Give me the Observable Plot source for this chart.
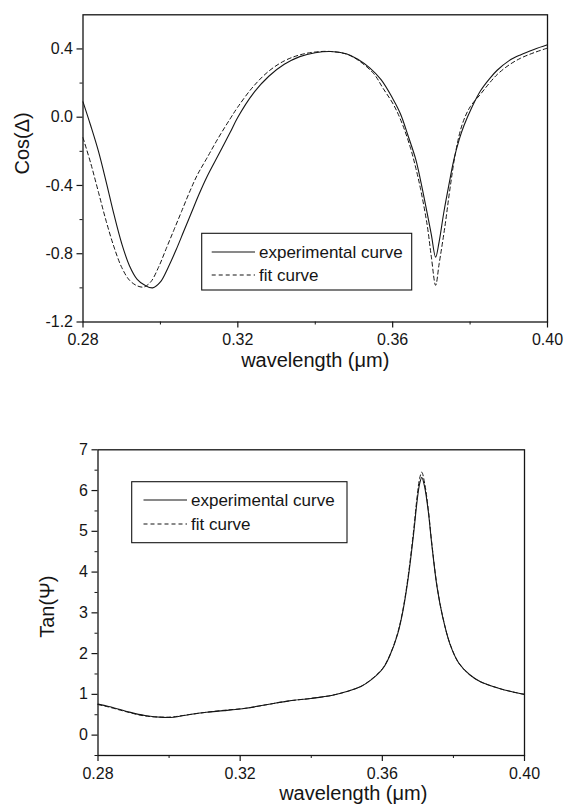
<!DOCTYPE html>
<html>
<head>
<meta charset="utf-8">
<script src="https://cdn.jsdelivr.net/npm/d3@7"></script>
<script src="https://cdn.jsdelivr.net/npm/@observablehq/plot@0.6"></script>
<style>
  html, body { margin: 0; padding: 0; background: #fff; overflow: hidden; }
  #wrap { position: relative; width: 565px; height: 809px; background: #fff; }
  #wrap svg { position: absolute; left: 0; }
</style>
</head>
<body>
<div id="wrap"></div>
<script>
// ---------- data ----------
const xTicks = [0.28, 0.32, 0.36, 0.40];
const xMinor = [0.30, 0.34, 0.38];
const cosTicks = [-1.2, -0.8, -0.4, 0.0, 0.4];
const cosMinor = [-1.0, -0.6, -0.2, 0.2];
const tanTicks = [0, 1, 2, 3, 4, 5, 6, 7];
const tanMinor = [-0.5, 0.5, 1.5, 2.5, 3.5, 4.5, 5.5, 6.5];
const seriesNames = ["experimental curve", "fit curve"];

// Cos(Δ) experimental
const wlCosExp = [0.2800, 0.2820, 0.2840, 0.2860, 0.2880, 0.2900, 0.2920, 0.2940, 0.2960, 0.2980, 0.3000, 0.3020, 0.3040, 0.3060, 0.3080, 0.3100, 0.3120, 0.3150, 0.3180, 0.3200, 0.3240, 0.3280, 0.3320, 0.3360, 0.3400, 0.3440, 0.3480, 0.3510, 0.3540, 0.3570, 0.3600, 0.3620, 0.3640, 0.3660, 0.3672, 0.3689, 0.3700, 0.3711, 0.3720, 0.3732, 0.3745, 0.3758, 0.3772, 0.3784, 0.3805, 0.3827, 0.3850, 0.3870, 0.3900, 0.3930, 0.3965, 0.4000];
const cosExp   = [0.09, -0.05, -0.20, -0.38, -0.57, -0.74, -0.87, -0.95, -0.985, -1.0, -0.965, -0.88, -0.78, -0.67, -0.56, -0.45, -0.35, -0.22, -0.09, 0.0, 0.14, 0.24, 0.31, 0.355, 0.378, 0.385, 0.372, 0.34, 0.29, 0.22, 0.11, 0.02, -0.11, -0.25, -0.37, -0.56, -0.69, -0.82, -0.73, -0.56, -0.40, -0.25, -0.13, -0.05, 0.06, 0.155, 0.225, 0.275, 0.33, 0.365, 0.397, 0.424];

// Cos(Δ) fit
const wlCosFit = [0.2800, 0.2820, 0.2840, 0.2860, 0.2880, 0.2900, 0.2920, 0.2940, 0.2957, 0.2975, 0.2995, 0.3015, 0.3035, 0.3055, 0.3075, 0.3095, 0.3120, 0.3150, 0.3180, 0.3200, 0.3240, 0.3280, 0.3320, 0.3360, 0.3400, 0.3440, 0.3480, 0.3510, 0.3551, 0.3575, 0.3603, 0.3625, 0.3646, 0.3660, 0.3672, 0.3689, 0.3700, 0.3711, 0.3720, 0.3735, 0.3748, 0.3763, 0.3780, 0.3800, 0.3827, 0.3850, 0.3870, 0.3900, 0.3930, 0.3965, 0.4000];
const cosFit   = [-0.12, -0.27, -0.44, -0.61, -0.76, -0.88, -0.955, -0.988, -0.995, -0.965, -0.88, -0.77, -0.66, -0.55, -0.44, -0.34, -0.24, -0.12, -0.01, 0.06, 0.18, 0.27, 0.33, 0.365, 0.382, 0.385, 0.37, 0.335, 0.255, 0.17, 0.07, -0.04, -0.18, -0.30, -0.42, -0.63, -0.82, -0.985, -0.86, -0.64, -0.42, -0.20, -0.04, 0.06, 0.135, 0.20, 0.25, 0.305, 0.345, 0.378, 0.405];

// Tan(Ψ) experimental
const wlTanExp = [0.2800, 0.2830, 0.2881, 0.2932, 0.2983, 0.3013, 0.3054, 0.3105, 0.3155, 0.3216, 0.3277, 0.3338, 0.3399, 0.3460, 0.3500, 0.3541, 0.3572, 0.3602, 0.3622, 0.3643, 0.3658, 0.3673, 0.3688, 0.3698, 0.3705, 0.3711, 0.3719, 0.3729, 0.3739, 0.3754, 0.3770, 0.3790, 0.3815, 0.3846, 0.3876, 0.3927, 0.3967, 0.4000];
const tanExp   = [0.76, 0.70, 0.58, 0.48, 0.435, 0.44, 0.50, 0.56, 0.60, 0.66, 0.75, 0.84, 0.90, 0.98, 1.07, 1.20, 1.38, 1.64, 1.97, 2.48, 3.05, 3.87, 4.94, 5.76, 6.17, 6.32, 6.09, 5.51, 4.69, 3.63, 2.89, 2.24, 1.77, 1.48, 1.31, 1.15, 1.06, 1.00];

// Tan(Ψ) fit
const wlTanFit = [0.2800, 0.2830, 0.2881, 0.2932, 0.2983, 0.3013, 0.3054, 0.3105, 0.3155, 0.3216, 0.3277, 0.3338, 0.3399, 0.3460, 0.3500, 0.3541, 0.3572, 0.3602, 0.3622, 0.3643, 0.3658, 0.3673, 0.3688, 0.3698, 0.3705, 0.3711, 0.3719, 0.3729, 0.3739, 0.3754, 0.3770, 0.3790, 0.3815, 0.3846, 0.3876, 0.3927, 0.3967, 0.4000];
const tanFit   = [0.75, 0.69, 0.57, 0.47, 0.44, 0.45, 0.50, 0.56, 0.61, 0.66, 0.75, 0.84, 0.90, 0.98, 1.07, 1.20, 1.39, 1.65, 1.98, 2.50, 3.08, 3.92, 5.02, 5.86, 6.30, 6.45, 6.18, 5.56, 4.72, 3.65, 2.90, 2.25, 1.77, 1.48, 1.31, 1.15, 1.06, 1.00];

// ---------- build tables ----------
const zip = (xs, ys) => xs.map((w, i) => ({w, v: ys[i]}));
const cosExpData = zip(wlCosExp, cosExp);
const cosFitData = zip(wlCosFit, cosFit);
const tanExpData = zip(wlTanExp, tanExp);
const tanFitData = zip(wlTanFit, tanFit);

const INK = "#151515";
const FONT = "'Liberation Sans', Arial, Helvetica, sans-serif";
const DASH = "4,3";

function panel({height, margins, yDomain, yTicks, yMinor, yFmt, exp, fit, yLabel, yLabelDx, yLabelDy, xLabelDx, xLabelDy}) {
  return Plot.plot({
    width: 565,
    height,
    marginLeft: margins[0], marginRight: margins[1], marginTop: margins[2], marginBottom: margins[3],
    style: {fontFamily: FONT, fontSize: "16px", color: INK, background: "white", overflow: "visible"},
    x: {domain: [0.28, 0.40]},
    y: {domain: yDomain},
    marks: [
      Plot.axisX(xTicks, {tickSize: 6, tickPadding: 6, tickFormat: d => d.toFixed(2), label: null, fontSize: 16, stroke: INK, strokeWidth: 1.2}),
      Plot.axisX(xMinor, {tickSize: 3, tickFormat: () => "", label: null, stroke: INK}),
      Plot.axisY(yTicks, {tickSize: 6, tickPadding: 4, tickFormat: yFmt, label: null, fontSize: 16, stroke: INK, strokeWidth: 1.2}),
      Plot.axisY(yMinor, {tickSize: 3, tickFormat: () => "", label: null, stroke: INK}),
      Plot.line(fit, {x: "w", y: "v", stroke: INK, strokeWidth: 1, strokeDasharray: DASH, curve: "catmull-rom"}),
      Plot.line(exp, {x: "w", y: "v", stroke: INK, strokeWidth: 1.1, curve: "catmull-rom"}),
      Plot.frame({stroke: INK, strokeWidth: 1.3}),
      Plot.text(["wavelength (μm)"], {frameAnchor: "bottom", lineAnchor: "middle", textAnchor: "middle", dx: xLabelDx, dy: xLabelDy, fontSize: 20, fill: INK}),
      Plot.text([yLabel], {frameAnchor: "left", lineAnchor: "middle", textAnchor: "middle", dx: yLabelDx, dy: yLabelDy, rotate: -90, fontSize: 20, fill: INK})
    ]
  });
}

function addLegend(svg, box, sample, rows, textX) {
  const g = d3.select(svg).append("g")
    .attr("font-family", FONT).attr("font-size", 17).attr("fill", INK).attr("text-anchor", "start");
  g.append("rect").attr("x", box[0]).attr("y", box[1]).attr("width", box[2] - box[0]).attr("height", box[3] - box[1])
    .attr("fill", "white").attr("stroke", INK).attr("stroke-width", 1.1);
  seriesNames.forEach((name, i) => {
    g.append("line").attr("x1", sample[0]).attr("x2", sample[1]).attr("y1", rows[i]).attr("y2", rows[i])
      .attr("stroke", INK).attr("stroke-width", 1.1).attr("stroke-dasharray", i === 1 ? DASH : null);
    g.append("text").attr("x", textX).attr("y", rows[i]).attr("dy", "0.35em").attr("text-anchor", "start").text(name);
  });
}

const wrap = document.getElementById("wrap");

const topSvg = panel({
  height: 400, margins: [82.5, 18, 14.3, 78.5], yDomain: [-1.2, 0.6],
  yTicks: cosTicks, yMinor: cosMinor, yFmt: d => d.toFixed(1),
  exp: cosExpData, fit: cosFitData, yLabel: "Cos(Δ)", yLabelDx: -60.5, yLabelDy: -25,
  xLabelDx: 0, xLabelDy: 38.5
});
topSvg.style.top = "0px";
wrap.appendChild(topSvg);
addLegend(topSvg, [201.7, 233.3, 411.7, 290], [211.7, 255], [252, 275], 259);

const botSvg = panel({
  height: 409, margins: [97.5, 41, 49.3, 54], yDomain: [-0.5, 7],
  yTicks: tanTicks, yMinor: tanMinor, yFmt: d => String(d),
  exp: tanExpData, fit: tanFitData, yLabel: "Tan(Ψ)", yLabelDx: -50.5, yLabelDy: 4,
  xLabelDx: 42, xLabelDy: 38
});
botSvg.style.top = "400px";
wrap.appendChild(botSvg);
addLegend(botSvg, [131.7, 81.7, 347, 142.7], [143.5, 187], [100, 124], 191);
</script>
</body>
</html>
